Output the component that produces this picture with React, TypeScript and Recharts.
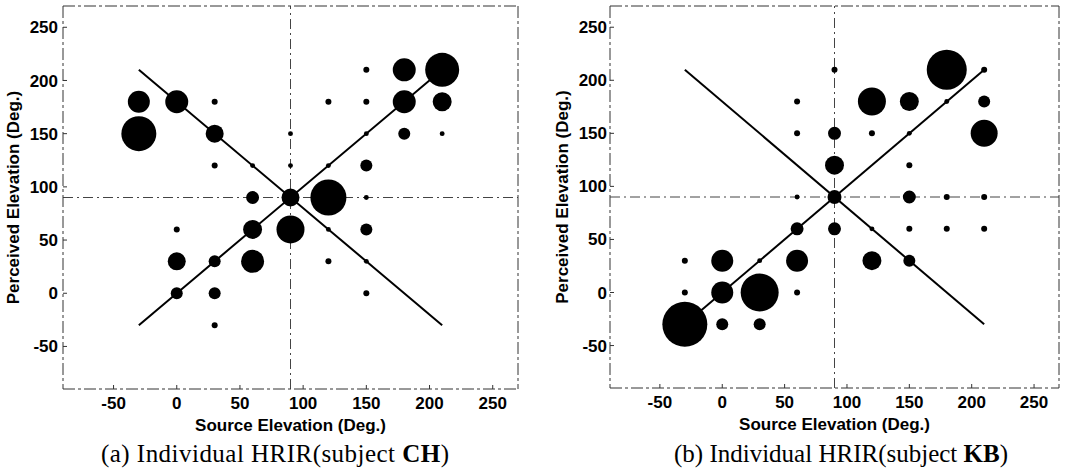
import React from 'react';
import {
  ScatterChart,
  Scatter,
  XAxis,
  YAxis,
  ZAxis,
  ReferenceLine,
} from 'recharts';

// [source elevation, perceived elevation, bubble weight]
const subjectCH: [number, number, number][] = [
  [-30, 180, 121], [-30, 150, 306], [0, 180, 132], [30, 180, 9], [30, 150, 81],
  [30, 120, 9], [60, 120, 6], [90, 150, 6], [90, 120, 6], [120, 180, 9],
  [120, 120, 6], [150, 210, 9], [150, 180, 9], [150, 150, 6], [150, 120, 36],
  [180, 210, 132], [180, 180, 132], [180, 150, 36], [210, 210, 289], [210, 180, 90],
  [210, 150, 6], [60, 90, 42], [90, 90, 81], [120, 90, 324], [150, 90, 6],
  [0, 60, 9], [60, 60, 90], [90, 60, 196], [120, 60, 6], [150, 60, 36],
  [0, 30, 81], [30, 30, 36], [60, 30, 132], [120, 30, 9], [150, 30, 6],
  [0, 0, 36], [30, 0, 36], [150, 0, 9], [30, -30, 9],
];

const subjectKB: [number, number, number][] = [
  [90, 210, 9], [210, 210, 9], [180, 210, 400], [60, 180, 9], [120, 180, 196],
  [150, 180, 90], [180, 180, 6], [210, 180, 36], [60, 150, 9], [90, 150, 42],
  [120, 150, 9], [150, 150, 6], [210, 150, 182], [90, 120, 90], [150, 120, 9],
  [60, 90, 6], [90, 90, 49], [150, 90, 42], [180, 90, 9], [210, 90, 9],
  [60, 60, 42], [90, 60, 42], [120, 60, 6], [150, 60, 9], [180, 60, 9],
  [210, 60, 9], [-30, 30, 9], [0, 30, 121], [30, 30, 6], [60, 30, 121],
  [120, 30, 90], [150, 30, 36], [-30, 0, 9], [0, 0, 121], [30, 0, 361],
  [60, 0, 9], [-30, -30, 506], [0, -30, 36], [30, -30, 36],
];

const axisDomain = [-90, 270];
const axisTicks = [-50, 0, 50, 100, 150, 200, 250];
const diagonal = [{ x: -30, y: -30 }, { x: 210, y: 210 }];
const antiDiagonal = [{ x: -30, y: 210 }, { x: 210, y: -30 }];
const crossAt = 90;

const sans = '"Liberation Sans", Arial, sans-serif';
const frame = { stroke: '#333', strokeWidth: 1, strokeDasharray: '12 3 3 3' };
const tickFont = { fontFamily: sans, fontSize: 17, fontWeight: 700, fill: '#000' };

interface PanelProps {
  data: [number, number, number][];
  width: number;
  yAxisWidth: number;
  xAxisHeight: number;
  marginRight: number;
  yTickMargin: number;
  yLabelX: number;
}

function Panel({ data, width, yAxisWidth, xAxisHeight, marginRight, yTickMargin, yLabelX }: PanelProps) {
  const points = data.map(([x, y, z]) => ({ x, y, z }));
  return (
    <ScatterChart
      width={width}
      height={445}
      margin={{ top: 5, right: marginRight, bottom: 0, left: 0 }}
    >
      <XAxis
        type="number"
        dataKey="x"
        domain={axisDomain}
        ticks={axisTicks}
        allowDataOverflow
        axisLine={frame}
        tickLine={{ stroke: '#333' }}
        tickSize={-4}
        tickMargin={12}
        height={xAxisHeight}
        tick={tickFont}
        label={{
          content: ({ viewBox }: any) => (
            <text
              x={viewBox.x + viewBox.width / 2}
              y={viewBox.y + 42}
              textAnchor="middle"
              fontFamily={sans}
              fontSize={17}
              fontWeight={700}
              fill="#000"
            >
              Source Elevation (Deg.)
            </text>
          ),
        }}
      />
      <XAxis
        xAxisId="top"
        orientation="top"
        type="number"
        domain={axisDomain}
        ticks={axisTicks}
        height={1}
        axisLine={frame}
        tickLine={{ stroke: '#333' }}
        tickSize={-4}
        tick={false}
      />
      <YAxis
        type="number"
        dataKey="y"
        domain={axisDomain}
        ticks={axisTicks}
        allowDataOverflow
        width={yAxisWidth}
        axisLine={frame}
        tickLine={{ stroke: '#333' }}
        tickSize={-4}
        tickMargin={yTickMargin}
        tick={tickFont}
        label={{
          content: ({ viewBox }: any) => {
            const cx = viewBox.x + yLabelX;
            const cy = viewBox.y + viewBox.height / 2;
            return (
              <text
                x={cx}
                y={cy}
                transform={`rotate(-90 ${cx} ${cy})`}
                textAnchor="middle"
                dominantBaseline="central"
                fontFamily={sans}
                fontSize={17}
                fontWeight={700}
                fill="#000"
              >
                Perceived Elevation (Deg.)
              </text>
            );
          },
        }}
      />
      <YAxis
        yAxisId="right"
        orientation="right"
        type="number"
        domain={axisDomain}
        ticks={axisTicks}
        width={1}
        axisLine={frame}
        tickLine={{ stroke: '#333' }}
        tickSize={-4}
        tick={false}
      />
      <ZAxis type="number" dataKey="z" domain={[0, 510]} range={[0, Math.PI * 510]} />

      {/* dash-dot cross through 90 deg */}
      <ReferenceLine x={crossAt} stroke="#444" strokeWidth={1} strokeDasharray="10 4 2 4" />
      <ReferenceLine y={crossAt} stroke="#444" strokeWidth={1} strokeDasharray="10 4 2 4" />

      <ReferenceLine segment={diagonal} stroke="#000" strokeWidth={2} />
      <ReferenceLine segment={antiDiagonal} stroke="#000" strokeWidth={2} />

      <Scatter data={points} fill="#000" isAnimationActive={false} />
    </ScatterChart>
  );
}

const captionStyle = {
  fontFamily: '"Liberation Serif", "DejaVu Serif", serif',
  fontSize: 25,
  fill: '#000',
};

export default function App() {
  return (
    <div
      style={{
        position: 'absolute',
        left: 0,
        top: 0,
        width: 1072,
        height: 474,
        background: '#fff',
        overflow: 'hidden',
      }}
    >
      <div style={{ position: 'absolute', left: 0, top: 0 }}>
        <Panel
          data={subjectCH}
          width={530}
          yAxisWidth={63}
          xAxisHeight={56}
          marginRight={11}
          yTickMargin={9}
          yLabelX={13}
        />
      </div>
      <div style={{ position: 'absolute', left: 540, top: 0 }}>
        <Panel
          data={subjectKB}
          width={532}
          yAxisWidth={70}
          xAxisHeight={57}
          marginRight={12}
          yTickMargin={7}
          yLabelX={22}
        />
      </div>
      <svg
        width={1072}
        height={474}
        style={{ position: 'absolute', left: 0, top: 0, pointerEvents: 'none' }}
      >
        <text x={101} y={462} textLength={348} lengthAdjust="spacing" style={captionStyle}>
          (a) Individual HRIR(subject <tspan fontWeight={700}>CH</tspan>)
        </text>
        <text x={674} y={462} textLength={334} lengthAdjust="spacing" style={captionStyle}>
          (b) Individual HRIR(subject <tspan fontWeight={700}>KB</tspan>)
        </text>
      </svg>
    </div>
  );
}
